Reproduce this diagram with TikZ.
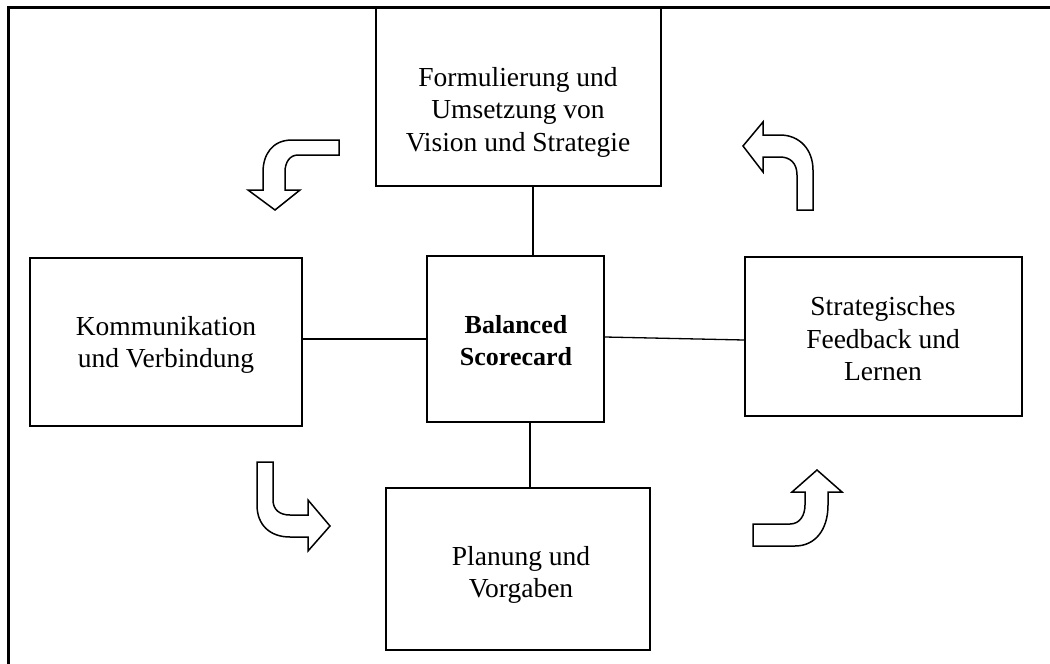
\documentclass[tikz,border=0pt]{standalone}
\usepackage{fontspec}
\setmainfont{Liberation Serif}
\begin{document}
\begin{tikzpicture}[x=1pt,y=-1pt,
  box/.style={draw, line width=1.5pt, rectangle, inner sep=0pt},
  txt/.style={align=center, font=\fontsize{27.5}{32.5}\selectfont},
  bold/.style={align=center, font=\fontsize{26}{32}\selectfont\bfseries},
  link/.style={line width=1.3pt},
  turn/.style={draw, line width=1.5pt, fill=white, line join=miter}]
\useasboundingbox (0,0) rectangle (1050,664);
% outer frame (top and left edges)
\draw[line width=3pt] (8.5,664) -- (8.5,7.5) -- (1050,7.5);

% boxes
\node[box, minimum width=285, minimum height=178] (t) at (518.5,97) {};
\node[box, minimum width=177, minimum height=166] (c) at (515.5,339) {};
\node[box, minimum width=272, minimum height=168] (l) at (166,342) {};
\node[box, minimum width=277, minimum height=159] (r) at (883.5,336.5) {};
\node[box, minimum width=264, minimum height=162] (b) at (518,569) {};

% texts
\node[txt] (tt) at (518,112) {Formulierung und\\Umsetzung von\\Vision und Strategie};
\node[bold] (ct) at (516,341) {Balanced\\Scorecard};
\node[txt] (lt) at (166,345) {Kommunikation\\und Verbindung};
\node[txt] (rt) at (883,339) {Strategisches\\Feedback und\\Lernen};
\node[txt] (bt) at (521,575) {Planung und\\Vorgaben};

% connectors
\draw[link] ([xshift=14.5pt]t.south) -- ([xshift=17.5pt]c.north);
\draw[link] (l.east |- c.west) -- (c.west);
\draw[link] ([yshift=2pt]c.east) -- ([yshift=-3.5pt]r.west);
\draw[link] ([xshift=14.5pt]c.south) -- ([xshift=12pt]b.north);

% curved block arrows
\draw[turn] (339,140) -- (292,140) .. controls (272,140) and (263,155) .. (263,172)
  -- (263,190) -- (248,190) -- (275,210) -- (300,190) -- (285,190) -- (285,172)
  .. controls (285,162) and (290,155) .. (298,155) -- (339,155) -- cycle;
\draw[turn] (813,210) -- (813,170) .. controls (813,150) and (800,135) .. (780,135)
  -- (763,135) -- (763,122) -- (743,146) -- (763,172) -- (763,157) -- (780,157)
  .. controls (790,157) and (797,163) .. (797,175) -- (797,210) -- cycle;
\draw[turn] (257,462) -- (273,462) -- (273,500) .. controls (273,510) and (280,515) .. (290,515)
  -- (308,515) -- (308,500) -- (330,526) -- (308,551) -- (308,537) -- (290,537)
  .. controls (270,537) and (257,525) .. (257,505) -- cycle;
\draw[turn] (753,546) -- (753,524) -- (790,524) .. controls (800,524) and (805,515) .. (805,505)
  -- (805,492) -- (792,492) -- (817,470) -- (842,492) -- (828,492) -- (828,505)
  .. controls (828,530) and (815,546) .. (795,546) -- cycle;
\end{tikzpicture}
\end{document}
